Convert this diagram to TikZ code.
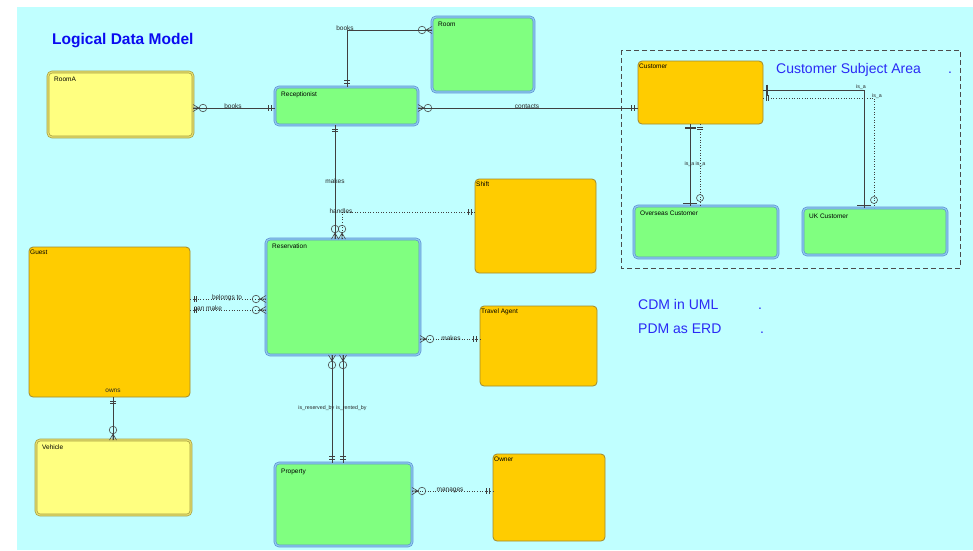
\documentclass[tikz,border=0pt]{standalone}
\usepackage{fontspec}
\setmainfont{Liberation Sans}
\definecolor{bg}{HTML}{C0FFFF}
\definecolor{grnfill}{HTML}{80FF80}
\definecolor{grnline}{HTML}{5E8ED6}
\definecolor{grndbl}{HTML}{8FD0EC}
\definecolor{yelfill}{HTML}{FFFF80}
\definecolor{yelline}{HTML}{A8A040}
\definecolor{yeldbl}{HTML}{E6E070}
\definecolor{orgfill}{HTML}{FFCC00}
\definecolor{orgline}{HTML}{A08A30}
\definecolor{lncol}{HTML}{404040}
\definecolor{titleblue}{HTML}{0A0AF0}
\definecolor{textblue}{HTML}{2A2AF5}
\begin{document}
\begin{tikzpicture}[x=1pt,y=-1pt,
  ent/.style={rectangle, rounded corners=4pt, anchor=north west, inner sep=0pt, outer sep=0pt},
  grn/.style={ent, fill=grnfill, draw=grnline, line width=0.7pt, double=grndbl, double distance=1.2pt},
  yel/.style={ent, fill=yelfill, draw=yelline, line width=0.7pt, double=yeldbl, double distance=1.2pt},
  org/.style={ent, fill=orgfill, draw=orgline, line width=0.8pt},
  glbl/.style={anchor=north west, inner sep=0pt, xshift=6pt, yshift=-5pt, font=\fontsize{6.5}{7}\selectfont},
  olbl/.style={anchor=north west, inner sep=0pt, xshift=1pt, yshift=-3pt, font=\fontsize{6.5}{7}\selectfont},
  lab/.style={inner sep=0pt, font=\fontsize{6.5}{7}\selectfont, text=black!85},
  slab/.style={inner sep=0pt, font=\fontsize{5.3}{6}\selectfont, text=black!85},
  conn/.style={draw=lncol, line width=0.6pt},
  dot/.style={conn, dotted},
  mk/.style={solid, draw=lncol, line width=0.55pt},
  crowS/.pic={\draw[mk] (0,-3.5) -- (6,0) -- (0,3.5) (0,0) -- (6,0); \draw[mk] (10,0) circle[radius=3.8pt];},
  crowE/.pic={\draw[mk] (0,-3.5) -- (-6,0) -- (0,3.5) (0,0) -- (-6,0); \draw[mk] (-10,0) circle[radius=3.8pt];},
  barsS/.pic={\draw[mk] (4,-3) -- (4,3) (6.5,-3) -- (6.5,3);},
  barsE/.pic={\draw[mk] (-4,-3) -- (-4,3) (-6.5,-3) -- (-6.5,3);},
  thickS/.pic={\draw[mk, line width=2pt] (4,-5.5) -- (4,5.5);},
  thinE/.pic={\draw[mk] (-3,-7) -- (-3,7);},
  dblS/.pic={\draw[mk, line width=0.4pt] (3,-3) -- (3,3) (5,-3) -- (5,3);},
  circE/.pic={\draw[mk] (-8,0) circle[radius=3.5pt];}
]
\useasboundingbox (0,0) rectangle (973,550);
\fill[bg] (17,7) rectangle (973,550);

% title and notes
\node[anchor=base west, inner sep=0pt, font=\fontsize{15.5}{18}\selectfont\bfseries, text=titleblue] (title) at (52,44) {Logical Data Model};
\draw[dashed, draw=black!70, line width=0.6pt, dash pattern=on 5pt off 3pt] (621,50) rectangle (960,268);
\node[anchor=base west, inner sep=0pt, font=\fontsize{14}{16}\selectfont, text=textblue] (csa) at (776,73) {Customer Subject Area};
\node[anchor=base west, inner sep=0pt, font=\fontsize{14}{16}\selectfont, text=textblue] (csadot) at (948,73) {.};
\node[anchor=base west, inner sep=0pt, font=\fontsize{14}{16}\selectfont, text=textblue] (cdm) at (638,309) {CDM in UML};
\node[anchor=base west, inner sep=0pt, font=\fontsize{14}{16}\selectfont, text=textblue] (cdmdot) at (758,309) {.};
\node[anchor=base west, inner sep=0pt, font=\fontsize{14}{16}\selectfont, text=textblue] (pdm) at (638,333) {PDM as ERD};
\node[anchor=base west, inner sep=0pt, font=\fontsize{14}{16}\selectfont, text=textblue] (pdmdot) at (760,333) {.};

% entities
\node[yel, minimum width=145, minimum height=65, label={[glbl]north west:RoomA}] (roomA) at (48,72) {};
\node[grn, minimum width=102, minimum height=75, label={[glbl]north west:Room}] (room) at (432,17) {};
\node[grn, minimum width=143, minimum height=38, label={[glbl]north west:Receptionist}] (recep) at (275,87) {};
\node[org, minimum width=125, minimum height=63, label={[olbl]north west:Customer}] (cust) at (638,61) {};
\node[grn, minimum width=144, minimum height=52, label={[glbl]north west:Overseas Customer}] (overseas) at (634,206) {};
\node[grn, minimum width=144, minimum height=47, label={[glbl, yshift=-1pt]north west:UK Customer}] (uk) at (803,208) {};
\node[org, minimum width=121, minimum height=94, label={[olbl]north west:Shift}] (shift) at (475,179) {};
\node[grn, minimum width=154, minimum height=116, label={[glbl]north west:Reservation}] (reserv) at (266,239) {};
\node[org, minimum width=161, minimum height=150, label={[olbl]north west:Guest}] (guest) at (29,247) {};
\node[yel, minimum width=155, minimum height=75, label={[glbl]north west:Vehicle}] (veh) at (36,440) {};
\node[org, minimum width=117, minimum height=80, label={[olbl]north west:Travel Agent}] (travel) at (480,306) {};
\node[grn, minimum width=137, minimum height=83, label={[glbl, yshift=-1pt]north west:Property}] (prop) at (275,463) {};
\node[org, minimum width=112, minimum height=87, label={[olbl]north west:Owner}] (owner) at (493,454) {};

% Receptionist - Room : books
\draw[conn] (recep.north -| 347,0) |- (room.west |- 0,30);
\pic[rotate=90] at (recep.north -| 347,0) {barsS};
\pic at (room.west |- 0,30) {crowE};
\node[lab] (l1) at (345,28.5) {books};

% RoomA - Receptionist : books
\draw[conn] (roomA.east |- 0,108) -- (recep.west |- 0,108);
\pic at (roomA.east |- 0,108) {crowS};
\pic at (recep.west |- 0,108) {barsE};
\node[lab] (l2) at (233,106.5) {books};

% Receptionist - Customer : contacts
\draw[conn] (recep.east |- 0,108) -- (cust.west |- 0,108);
\pic at (recep.east |- 0,108) {crowS};
\pic at (cust.west |- 0,108) {barsE};
\node[lab] (l3) at (527,106.5) {contacts};

% Receptionist - Reservation : makes
\draw[conn] (recep.south -| 335,0) -- (reserv.north -| 335,0);
\pic[rotate=-90] at (recep.south -| 335,0) {barsS};
\pic[rotate=-90] at (reserv.north -| 335,0) {crowE};
\node[lab] (l4) at (335,181) {makes};

% Shift - Reservation : handles
\draw[dot] (shift.west |- 0,212) -| (reserv.north -| 342,0);
\pic[rotate=180] at (shift.west |- 0,212) {barsS};
\pic[rotate=-90] at (reserv.north -| 342,0) {crowE};
\node[lab] (l5) at (341,211) {handles};

% Guest - Reservation
\draw[dot] (guest.east |- 0,299) -- (reserv.west |- 0,299);
\pic at (guest.east |- 0,299) {barsS};
\pic at (reserv.west |- 0,299) {crowE};
\node[lab] (l6) at (227,298) {belongs to};
\draw[dot] (guest.east |- 0,310) -- (reserv.west |- 0,310);
\pic at (guest.east |- 0,310) {barsS};
\pic at (reserv.west |- 0,310) {crowE};
\node[lab] (l7) at (208,308) {can make};

% Reservation - Travel Agent : makes
\draw[dot] (reserv.east |- 0,339) -- (travel.west |- 0,339);
\pic at (reserv.east |- 0,339) {crowS};
\pic at (travel.west |- 0,339) {barsE};
\node[lab] (l8) at (451,338) {makes};

% Reservation - Property
\draw[conn] (reserv.south -| 332,0) -- (prop.north -| 332,0);
\pic[rotate=-90] at (reserv.south -| 332,0) {crowS};
\pic[rotate=-90] at (prop.north -| 332,0) {barsE};
\draw[conn] (reserv.south -| 343,0) -- (prop.north -| 343,0);
\pic[rotate=-90] at (reserv.south -| 343,0) {crowS};
\pic[rotate=-90] at (prop.north -| 343,0) {barsE};
\node[slab, anchor=east] (l9) at (334.5,408) {is\_reserved\_by};
\node[slab, anchor=west] (l10) at (336,408) {is\_rented\_by};

% Property - Owner : manages
\draw[dot] (prop.east |- 0,491) -- (owner.west |- 0,491);
\pic at (prop.east |- 0,491) {crowS};
\pic at (owner.west |- 0,491) {barsE};
\node[lab] (l11) at (450,490) {manages};

% Guest - Vehicle : owns
\draw[conn] (guest.south -| 113,0) -- (veh.north -| 113,0);
\pic[rotate=-90] at (guest.south -| 113,0) {barsS};
\pic[rotate=-90] at (veh.north -| 113,0) {crowE};
\node[lab] (l12) at (113,391) {owns};

% Customer - Overseas Customer
\draw[conn] (cust.south -| 690,0) -- (overseas.north -| 690,0);
\pic[rotate=-90] at (cust.south -| 690,0) {thickS};
\pic[rotate=-90] at (overseas.north -| 690,0) {thinE};
\draw[dot] (cust.south -| 700,0) -- (overseas.north -| 700,0);
\pic[rotate=-90] at (cust.south -| 700,0) {dblS};
\pic[rotate=-90] at (overseas.north -| 700,0) {circE};
\node[slab, anchor=east] (l13) at (694.5,164) {is\_a};
\node[slab, anchor=west] (l14) at (695.5,164) {is\_a};

% Customer - UK Customer
\draw[conn] (cust.east |- 0,90) -| (uk.north -| 864,0);
\pic at (cust.east |- 0,90) {thickS};
\pic[rotate=-90] at (uk.north -| 864,0) {thinE};
\draw[dot] (cust.east |- 0,98) -| (uk.north -| 874,0);
\pic at (cust.east |- 0,98) {dblS};
\pic[rotate=-90] at (uk.north -| 874,0) {circE};
\node[slab] (l15) at (861,87.5) {is\_a};
\node[slab] (l16) at (877,96.5) {is\_a};
\end{tikzpicture}
\end{document}
